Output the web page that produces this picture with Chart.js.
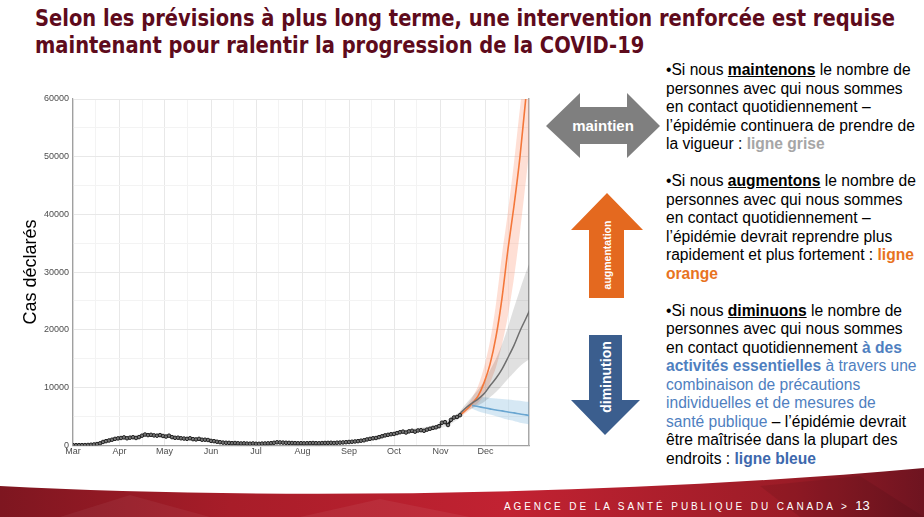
<!DOCTYPE html>
<html lang="fr">
<head>
<meta charset="utf-8">
<script src="https://cdn.jsdelivr.net/npm/chart.js@4.4.0/dist/chart.umd.min.js"></script>
<style>
  html, body { margin: 0; padding: 0; background: #fff; }
  body { width: 924px; height: 517px; position: relative; overflow: hidden; font-family: "Liberation Sans", Arial, sans-serif; }
  #title { position: absolute; left: 35px; top: 5px; font-family: "Liberation Sans Narrow", "DejaVu Sans Condensed", sans-serif; font-weight: bold; font-size: 23px; line-height: 27px; color: #5e0b1c; white-space: nowrap; transform-origin: 0 0; }
  #chart-box { position: absolute; left: 0; top: 80px; width: 545px; height: 390px; }
  #notes { position: absolute; left: 666px; top: 61px; font-size: 15.6px; line-height: 18.5px; color: #000; white-space: nowrap; }
  #notes b.u { text-decoration: underline; }
  .grey { color: #a6a6a6; font-weight: bold; }
  .orange { color: #e8731f; font-weight: bold; }
  .blue { color: #4f7fc0; }
  .blueb { color: #4f7fc0; font-weight: bold; }
  .blued { color: #3d68ad; font-weight: bold; }
  svg { position: absolute; left: 0; top: 0; }
  #footer-text { position: absolute; left: 504px; top: 498px; color: #fff; font-size: 10px; letter-spacing: 2.9px; white-space: nowrap; }
  #footer-text span { font-family: "Liberation Sans Narrow", sans-serif; font-size: 13px; letter-spacing: 0; }
</style>
</head>
<body>
<svg width="924" height="517" viewBox="0 0 924 517">
  <defs>
    <linearGradient id="red" x1="0" y1="0" x2="1" y2="0">
      <stop offset="0" stop-color="#7e1620"/>
      <stop offset="0.25" stop-color="#a81d29"/>
      <stop offset="0.55" stop-color="#c22232"/>
      <stop offset="0.85" stop-color="#9c1c27"/>
      <stop offset="1" stop-color="#6e1420"/>
    </linearGradient>
  </defs>
  <path d="M0,486 C250,499 600,497 924,468 L924,517 L0,517 Z" fill="url(#red)"/>
  <path d="M130,495 L210,517 L60,517 Z" fill="#ffffff" opacity="0.05"/>
  <path d="M380,499 L470,517 L300,517 Z" fill="#ffffff" opacity="0.06"/>
  <path d="M760,486 L860,476 L924,517 L800,517 Z" fill="#000000" opacity="0.08"/>
  <!-- maintien -->
  <polygon points="546,126 580,93 580,107 627,107 627,93 660,126 627,158 627,144 580,144 580,158" fill="#7f7f7f"/>
  <text x="603" y="131" fill="#fff" font-size="15" font-weight="bold" text-anchor="middle">maintien</text>
  <!-- augmentation -->
  <polygon points="607,193 643,230 624,230 624,298 589,298 589,230 571,230" fill="#e4691f"/>
  <text x="0" y="0" transform="translate(611,255) rotate(-90)" fill="#fff" font-size="10.5" font-weight="bold" text-anchor="middle">augmentation</text>
  <!-- diminution -->
  <polygon points="589,335 622,335 622,400 640,400 605,435 571,400 589,400" fill="#3b5e8e"/>
  <text x="0" y="0" transform="translate(611,377) rotate(-90)" fill="#fff" font-size="14" font-weight="bold" text-anchor="middle">diminution</text>
</svg>

<div id="title"><span id="t1">Selon les prévisions à plus long terme, une intervention renforcée est requise</span><br>maintenant pour ralentir la progression de la COVID-19</div>

<div id="chart-box"><canvas id="chart"></canvas></div>

<div id="notes">
•Si nous <b class="u">maintenons</b> le nombre de<br>
personnes avec qui nous sommes<br>
en contact quotidiennement –<br>
l’épidémie continuera de prendre de<br>
la vigueur : <span class="grey">ligne grise</span><br>
<br>
•Si nous <b class="u">augmentons</b> le nombre de<br>
personnes avec qui nous sommes<br>
en contact quotidiennement –<br>
l’épidémie devrait reprendre plus<br>
rapidement et plus fortement : <span class="orange">ligne</span><br>
<span class="orange">orange</span><br>
<br>
•Si nous <b class="u">diminuons</b> le nombre de<br>
personnes avec qui nous sommes<br>
en contact quotidiennement <span class="blueb">à des</span><br>
<span class="blueb">activités essentielles</span> <span class="blue">à travers une</span><br>
<span class="blue">combinaison de précautions</span><br>
<span class="blue">individuelles et de mesures de</span><br>
<span class="blue">santé publique</span> – l’épidémie devrait<br>
être maîtrisée dans la plupart des<br>
endroits : <span class="blued">ligne bleue</span>
</div>

<div id="footer-text">AGENCE DE LA SANTÉ PUBLIQUE DU CANADA &gt; <span>13</span></div>

<script>
// squeeze the title to the width it has on the slide
const t1w = document.getElementById("t1").getBoundingClientRect().width;
document.getElementById("title").style.transform = "scaleX(" + (860 / t1w) + ")";

// x axis = days since 1 March 2020
const monthDays = [0, 31, 61, 92, 122, 153, 184, 214, 245, 275];
const monthLabels = ["Mar", "Apr", "May", "Jun", "Jul", "Aug", "Sep", "Oct", "Nov", "Dec"];
const gridDays = [0, 15, 31, 46, 61, 76, 92, 107, 122, 137, 153, 168, 184, 199, 214, 229, 245, 260, 275, 290];

// reported cases, one value every 2 days from 1 March
const obsStep = 2;
const obsCases = [
  0, 2, 5, 10, 20, 40, 80, 130, 200, 320, 560, 700, 820, 950, 1100, 1180,
  1250, 1350, 1200, 1300, 1380, 1250, 1400, 1650, 1850, 1750, 1800, 1700, 1650, 1750, 1600,
  1500, 1650, 1400, 1280, 1300, 1200, 1150, 1100, 1200, 1050, 1000, 1100, 950, 950, 900,
  750, 700, 600, 520, 450, 420, 400, 350, 380, 330, 300, 320, 280, 260, 300,
  250, 240, 280, 300, 320, 350, 420, 500, 480, 450, 420, 400, 380, 360, 330, 350,
  320, 340, 360, 380, 350, 330, 370, 390, 400, 420, 380, 430, 450, 480, 520,
  560, 600, 650, 700, 780, 850, 1000, 1100, 1200, 1250, 1400, 1550, 1700, 1800, 1900,
  1950, 2100, 2250, 2350, 2200, 2400, 2500, 2350, 2550, 2600, 2500, 2700, 2850, 3000, 3100, 3300,
  3900, 4000, 3500, 4400, 4800, 4900, 5200
];

// model fit band around reported cases
const fitDays = [0, 14, 20, 26, 32, 46, 60, 74, 90, 104, 120, 136, 152, 168, 184, 198, 212, 226, 240, 250, 258];
const fitHi = [60, 250, 750, 1150, 1450, 1900, 1850, 1400, 1100, 560, 430, 650, 480, 520, 720, 1350, 2200, 2850, 3400, 4400, 5800];
const fitLo = [0, 40, 380, 760, 1050, 1400, 1350, 900, 700, 260, 180, 360, 230, 270, 420, 850, 1600, 2150, 2600, 3400, 4700];

// forecasts
const fcDays = [258, 262, 266, 270, 274, 278, 282, 286, 290, 294, 298, 302, 305];
const greyMid = [5500, 6500, 7300, 8000, 8900, 10300, 11600, 13200, 15200, 17300, 19800, 22000, 23700];
const greyHi = [5900, 7200, 8400, 9600, 11000, 13000, 15000, 17500, 20500, 23800, 27000, 30000, 32000];
const greyLo = [5000, 5900, 6400, 6900, 7500, 8300, 9200, 10300, 11500, 12600, 13700, 14500, 15000];
const orangeMid = [5200, 6100, 7200, 8500, 10800, 14000, 18800, 25500, 34000, 41500, 50000, 60500, 67000];
const orangeHi = [5500, 6700, 8200, 10200, 13500, 18000, 24500, 33000, 40500, 49000, 58500, 67000, 74000];
const orangeLo = [5000, 5600, 6400, 7300, 8700, 10800, 13500, 17500, 22500, 29000, 37000, 46000, 53000];
const blueDays = [266, 270, 274, 278, 282, 286, 290, 294, 298, 302, 305];
const blueMid = [6900, 6700, 6500, 6300, 6100, 5950, 5750, 5600, 5400, 5250, 5100];
const blueHi = [7600, 8300, 8300, 8200, 8100, 8000, 7900, 7800, 7700, 7550, 7500];
const blueLo = [6300, 5900, 5600, 5300, 5000, 4700, 4400, 4200, 3900, 3700, 3500];

const pts = (days, vals) => days.map((d, i) => ({ x: d, y: vals[i] }));

const line = (data, color, width, order) => ({
  data: data, borderColor: color, borderWidth: width, pointRadius: 0, fill: false, order: order, tension: 0.3
});
const band = (data, color, fillNext) => ({
  data: data, borderWidth: 0, pointRadius: 0, backgroundColor: color, fill: fillNext ? "+1" : false, order: 10, tension: 0.3
});

const datasets = [
  {
    data: obsCases.map((v, i) => ({ x: i * obsStep, y: v })),
    borderColor: "#111", borderWidth: 2.2, pointRadius: 1.8, pointBorderWidth: 1,
    pointBorderColor: "#222", pointBackgroundColor: "#777", fill: false, order: 0
  },
  line(pts(fcDays, greyMid), "#6e6e6e", 1.5, 1),
  line(pts(fcDays, orangeMid), "#f4773a", 1.6, 1),
  line(pts(blueDays, blueMid), "#6aa6d1", 1.6, 1),
  band(pts(fitDays, fitHi), "rgba(0,0,0,0.09)", true),
  band(pts(fitDays, fitLo), "rgba(0,0,0,0.09)", false),
  band(pts(fcDays, greyHi), "rgba(0,0,0,0.12)", true),
  band(pts(fcDays, greyLo), "rgba(0,0,0,0.12)", false),
  band(pts(fcDays, orangeHi), "rgba(250,140,105,0.28)", true),
  band(pts(fcDays, orangeLo), "rgba(250,140,105,0.28)", false),
  band(pts(blueDays, blueHi), "rgba(107,174,214,0.28)", true),
  band(pts(blueDays, blueLo), "rgba(107,174,214,0.28)", false)
];

const tickFont = { family: "Liberation Sans, Arial, sans-serif", size: 9 };

new Chart(document.getElementById("chart"), {
  type: "line",
  data: { datasets: datasets },
  options: {
    responsive: true,
    maintainAspectRatio: false,
    animation: false,
    layout: { padding: { left: 18, top: 19, right: 15, bottom: 12 } },
    plugins: { legend: { display: false }, tooltip: { enabled: false } },
    scales: {
      x: {
        type: "linear", min: 0, max: 304,
        afterBuildTicks: (s) => { s.ticks = gridDays.map((v) => ({ value: v })); },
        ticks: {
          autoSkip: false, maxRotation: 0, padding: 1, color: "#4d4d4d", font: tickFont,
          callback: (v) => { const i = monthDays.indexOf(v); return i >= 0 ? monthLabels[i] : ""; }
        },
        grid: {
          color: (c) => monthDays.includes(c.tick.value) ? "#e8e8e8" : "#f3f3f3",
          drawTicks: false
        },
        border: { color: "#a0a0a0", width: 1.2 }
      },
      y: {
        min: 0, max: 60000,
        ticks: {
          stepSize: 5000, padding: 4, color: "#4d4d4d", font: tickFont,
          callback: (v) => v % 10000 === 0 ? String(v) : ""
        },
        grid: {
          color: (c) => c.tick.value % 10000 === 0 ? "#e8e8e8" : "#f3f3f3",
          drawTicks: false
        },
        border: { color: "#a0a0a0", width: 1.2 },
        title: { display: true, text: "Cas déclarés", color: "#000", font: { family: "Liberation Sans, Arial, sans-serif", size: 18 }, padding: 2 },
        afterFit: (s) => { s.width = 55; }
      },
      y2: {
        position: "right", min: 0, max: 60000,
        ticks: { display: false },
        grid: { drawOnChartArea: false, drawTicks: false },
        border: { color: "#a8a8a8", width: 1.5 },
        afterFit: (s) => { s.width = 1; }
      }
    }
  }
});
</script>
</body>
</html>
